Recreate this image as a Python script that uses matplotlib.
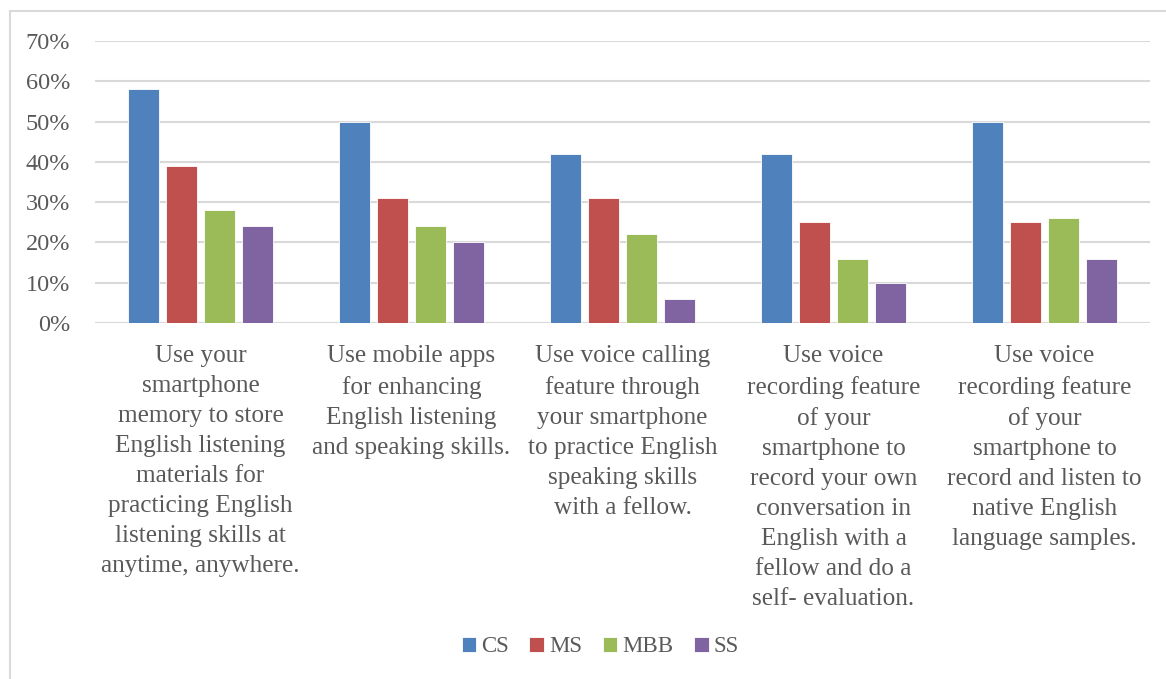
import matplotlib.pyplot as plt
import numpy as np
from matplotlib.lines import Line2D

# Categorias (texto quebrado como no gráfico)
categorias = [
    "Use your\nsmartphone\nmemory to store\nEnglish listening\nmaterials for\npracticing English\nlistening skills at\nanytime, anywhere.",
    "Use mobile apps\nfor enhancing\nEnglish listening\nand speaking skills.",
    "Use voice calling\nfeature through\nyour smartphone\nto practice English\nspeaking skills\nwith a fellow.",
    "Use voice\nrecording feature\nof your\nsmartphone to\nrecord your own\nconversation in\nEnglish with a\nfellow and do a\nself- evaluation.",
    "Use voice\nrecording feature\nof your\nsmartphone to\nrecord and listen to\nnative English\nlanguage samples.",
]

grupos = ["CS", "MS", "MBB", "SS"]
cs = [58, 50, 42, 42, 50]
ms = [39, 31, 31, 25, 25]
mbb = [28, 24, 22, 16, 26]
ss = [24, 20, 6, 10, 16]

yticks = [0, 10, 20, 30, 40, 50, 60, 70]

cores = ["#4F81BD", "#C0504D", "#9BBB59", "#8064A2"]
texto = "#595959"

plt.rcParams['font.family'] = ['Liberation Serif', 'DejaVu Serif']

fig = plt.figure(figsize=(11.66, 6.79), dpi=100)
ax = fig.add_axes([95 / 1166, 1 - 323 / 679, 1055 / 1166, 282 / 679])

x = np.arange(len(categorias))
passo = 0.18
largura = 0.15
for i, (serie, cor) in enumerate(zip([cs, ms, mbb, ss], cores)):
    ax.bar(x + (i - 1.5) * passo, serie, largura, color=cor,
           edgecolor='white', linewidth=0.6, label=grupos[i], zorder=3)

ax.set_xlim(-0.5, len(categorias) - 0.5)
ax.set_ylim(0, 70)
ax.set_yticks(yticks)
ax.set_yticklabels([f"{v}%" for v in yticks], fontsize=17.5, color=texto)
ax.set_xticks(x)
ax.set_xticklabels(categorias, fontsize=18.2, color=texto, linespacing=1.47)
ax.tick_params(axis='both', length=0)
ax.tick_params(axis='x', pad=16)
ax.tick_params(axis='y', pad=18)

ax.grid(axis='y', color='#D9D9D9', linewidth=1.5, zorder=0)
for s in ax.spines.values():
    s.set_visible(False)
ax.axhline(0, color='#D9D9D9', linewidth=1.5, zorder=2)

# Legenda em baixo
ax.legend(loc='center', bbox_to_anchor=(600 / 1166, 1 - 647 / 679),
          bbox_transform=fig.transFigure, ncol=4, frameon=False,
          fontsize=16.5, handlelength=0.65, handleheight=0.65,
          handletextpad=0.2, columnspacing=0.9, labelcolor=texto)

# Moldura do gráfico
fig.add_artist(Line2D([10 / 1166, 1], [1 - 11 / 679, 1 - 11 / 679],
                      transform=fig.transFigure, color='#D9D9D9', linewidth=1.5))
fig.add_artist(Line2D([10 / 1166, 10 / 1166], [0, 1 - 11 / 679],
                      transform=fig.transFigure, color='#D9D9D9', linewidth=1.5))

fig.savefig('out.png', dpi=100)
